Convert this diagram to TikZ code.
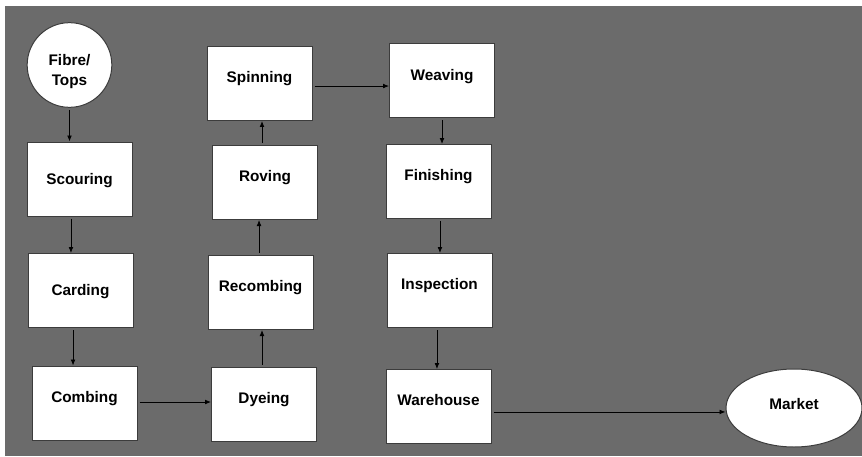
\documentclass[tikz,border=0pt]{standalone}
\usepackage{fontspec}
\setmainfont{Liberation Sans}
\usetikzlibrary{arrows.meta,shapes.geometric}
\definecolor{bggray}{HTML}{6B6B6B}
\definecolor{edgegray}{HTML}{3C3C3C}
\begin{document}
\begin{tikzpicture}[x=0.75pt,y=-0.75pt,
  lbl/.style={font=\fontsize{11.5}{15}\selectfont\bfseries, text=black},
  stepbox/.style={lbl, rectangle, draw=edgegray, line width=0.75pt, fill=white,
    minimum width=78.75pt, minimum height=55.5pt, inner sep=0pt,
    text height=8.2pt, text depth=9pt},
  stepboxc/.style={stepbox, text depth=0pt},
  flow/.style={draw=black, line width=0.6pt, shorten <=1.5pt,
    -{Latex[length=4.5pt,width=3.6pt]}}]
  \useasboundingbox (0,0) rectangle (862,456);
  \fill[white] (0,0) rectangle (862,456);
  \fill[bggray] (5,6) rectangle (862,456);

  \node[lbl, circle, draw=edgegray, line width=0.75pt, fill=white, minimum size=63.5pt,
    inner sep=0pt, align=center] (fibre) at (69.5,65) {\rule{0pt}{18.5pt}Fibre/\\Tops};
  \node[stepboxc] (scour)  at (79.5,179)   {Scouring};
  \node[stepboxc] (card)   at (80.5,290.5) {Carding};
  \node[stepbox]  (comb)   at (84.5,403)   {Combing};
  \node[stepbox]  (dye)    at (264,404)    {Dyeing};
  \node[stepbox]  (recomb) at (260.5,292.5){Recombing};
  \node[stepbox]  (roving) at (265,182.5)  {Roving};
  \node[stepbox]  (spin)   at (259.5,83.5) {Spinning};
  \node[stepbox]  (weave)  at (442,81)     {Weaving};
  \node[stepbox]  (finish) at (438.5,181.5){Finishing};
  \node[stepbox]  (insp)   at (439.5,290.5){Inspection};
  \node[stepbox]  (ware)   at (438.5,406.5){Warehouse};
  \node[lbl, ellipse, draw=edgegray, line width=0.75pt, fill=white,
    minimum width=102pt, minimum height=58.5pt, inner sep=0pt,
    text height=8.2pt, text depth=6pt] (market) at (794,408) {Market};

  \draw[flow] (fibre.south) -- (fibre.south |- scour.north);
  \draw[flow] ([xshift=-6.4pt]scour.south) -- ([xshift=-6.4pt]scour.south |- card.north);
  \draw[flow] ([xshift=-5.6pt]card.south) -- ([xshift=-5.6pt]card.south |- comb.north);
  \draw[flow] ([yshift=0.75pt]comb.east) -- ([yshift=0.75pt]comb.east -| dye.west);
  \draw[flow] ([xshift=-1.5pt]dye.north) -- ([xshift=-1.5pt]dye.north |- recomb.south);
  \draw[flow] ([xshift=-1.1pt]recomb.north) -- ([xshift=-1.1pt]recomb.north |- roving.south);
  \draw[flow] ([xshift=-2.25pt]roving.north) -- ([xshift=-2.25pt]roving.north |- spin.south);
  \draw[flow] ([yshift=-1.9pt]spin.east) -- ([yshift=-1.9pt]spin.east -| weave.west);
  \draw[flow] (weave.south) -- (weave.south |- finish.north);
  \draw[flow] ([xshift=1.1pt]finish.south) -- ([xshift=1.1pt]finish.south |- insp.north);
  \draw[flow] ([xshift=-1.9pt]insp.south) -- ([xshift=-1.9pt]insp.south |- ware.north);
  \draw[flow] ([yshift=-4.1pt]ware.east) -- ([yshift=-4.1pt]ware.east -| market.west);
\end{tikzpicture}
\end{document}
